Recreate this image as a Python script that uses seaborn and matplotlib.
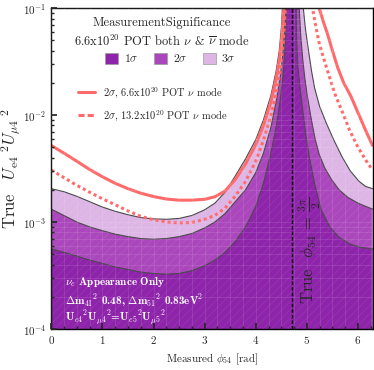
import numpy as np
import matplotlib
matplotlib.use("Agg")
import matplotlib.pyplot as plt
from matplotlib.patches import Patch
from matplotlib.lines import Line2D
import seaborn as sns

# contour boundaries (x = measured phi54, y = U_e4^2 U_mu4^2)
# near 3pi/2 the curves leave the top of the plot, the 1.0 point lies above the axes
sig1_x = [0, 0.25, 0.5, 0.75, 1.0, 1.25, 1.5, 1.75, 2.0, 2.25, 2.5, 2.75, 3.0, 3.2, 3.4, 3.6, 3.8,
          4.0, 4.15, 4.3, 4.4, 4.48, 4.54, 4.58, 4.6, 4.71,
          4.79, 4.80, 4.82, 4.86, 4.91, 4.98, 5.05, 5.15, 5.28, 5.45, 5.63, 5.85, 6.05, 6.2832]
sig1_y = [5.6e-4, 5.2e-4, 4.8e-4, 4.4e-4, 4.1e-4, 3.8e-4, 3.6e-4, 3.4e-4, 3.3e-4, 3.25e-4, 3.3e-4, 3.5e-4, 3.9e-4,
          4.4e-4, 5.2e-4, 6.6e-4, 9.0e-4,
          1.4e-3, 2.3e-3, 4.5e-3, 7.8e-3, 1.4e-2, 2.5e-2, 5e-2, 0.1, 1.0,
          0.1, 5e-2, 3e-2, 1.9e-2, 1.2e-2, 6.5e-3, 4.0e-3, 2.3e-3, 1.3e-3, 9.0e-4, 7.2e-4, 6.2e-4, 5.8e-4, 5.6e-4]

sig2_x = [0, 0.25, 0.5, 0.75, 1.0, 1.25, 1.5, 1.75, 2.0, 2.25, 2.5, 2.75, 3.0, 3.2, 3.4, 3.6, 3.8,
          4.0, 4.15, 4.3, 4.4, 4.48, 4.53, 4.56, 4.58, 4.71,
          4.85, 4.88, 4.92, 4.96, 5.01, 5.08, 5.16, 5.24, 5.35, 5.48, 5.63, 5.8, 6.0, 6.15, 6.2832]
sig2_y = [1.32e-3, 1.15e-3, 1.0e-3, 9.0e-4, 8.3e-4, 7.7e-4, 7.3e-4, 7.0e-4, 6.9e-4, 7.0e-4, 7.3e-4, 7.8e-4, 8.8e-4,
          1.0e-3, 1.2e-3, 1.55e-3, 2.0e-3,
          2.9e-3, 4.4e-3, 7.8e-3, 1.35e-2, 2.3e-2, 3.8e-2, 6e-2, 0.1, 1.0,
          0.1, 5.5e-2, 3.27e-2, 2.2e-2, 1.5e-2, 9.5e-3, 6.0e-3, 4.3e-3, 3.2e-3, 2.5e-3, 2.0e-3, 1.7e-3, 1.5e-3,
          1.4e-3, 1.32e-3]

sig3_x = [0, 0.25, 0.5, 0.75, 1.0, 1.25, 1.5, 1.75, 2.0, 2.25, 2.5, 2.75, 3.0, 3.2, 3.4, 3.6, 3.8,
          4.0, 4.15, 4.3, 4.4, 4.46, 4.5, 4.52, 4.71,
          4.93, 4.97, 5.03, 5.09, 5.15, 5.25, 5.38, 5.53, 5.69, 5.85, 6.02, 6.15, 6.2832]
sig3_y = [2.05e-3, 1.92e-3, 1.74e-3, 1.55e-3, 1.38e-3, 1.26e-3, 1.17e-3, 1.1e-3, 1.07e-3, 1.06e-3, 1.08e-3, 1.15e-3,
          1.3e-3, 1.5e-3, 1.9e-3, 2.7e-3, 3.9e-3,
          5.9e-3, 9.0e-3, 1.55e-2, 2.6e-2, 4.0e-2, 6.5e-2, 0.1, 1.0,
          0.1, 6.5e-2, 4.05e-2, 2.6e-2, 1.8e-2, 1.2e-2, 8.4e-3, 5.8e-3, 4.05e-3, 3.0e-3, 2.4e-3, 2.15e-3, 2.05e-3]

# 2 sigma, nu mode only
nu66_x = [0, 0.25, 0.5, 0.75, 1.0, 1.25, 1.5, 1.75, 2.0, 2.25, 2.5, 2.75, 3.0, 3.2, 3.4, 3.6, 3.8,
          4.0, 4.15, 4.3, 4.4, 4.47, 4.52, 4.55, 4.85,
          5.24, 5.32, 5.40, 5.5, 5.6, 5.72, 5.86, 6.0, 6.16, 6.2832]
nu66_y = [5.2e-3, 4.4e-3, 3.7e-3, 3.1e-3, 2.65e-3, 2.3e-3, 2.05e-3, 1.86e-3, 1.73e-3, 1.64e-3, 1.6e-3, 1.6e-3,
          1.63e-3, 1.72e-3, 1.95e-3, 2.5e-3, 3.5e-3,
          5.3e-3, 8.0e-3, 1.35e-2, 2.2e-2, 3.5e-2, 6e-2, 0.1, 1.0,
          0.1, 7.5e-2, 5.8e-2, 4.0e-2, 2.8e-2, 2.0e-2, 1.5e-2, 1.05e-2, 7.0e-3, 5.2e-3]

nu132_x = [0, 0.25, 0.5, 0.75, 1.0, 1.25, 1.5, 1.75, 2.0, 2.25, 2.5, 2.75, 3.0, 3.2, 3.4, 3.6, 3.8,
           4.0, 4.15, 4.3, 4.4, 4.48, 4.54, 4.58, 4.85,
           5.11, 5.18, 5.25, 5.38, 5.54, 5.7, 5.83, 6.0, 6.15, 6.2832]
nu132_y = [3.06e-3, 2.6e-3, 2.2e-3, 1.9e-3, 1.65e-3, 1.45e-3, 1.27e-3, 1.13e-3, 1.05e-3, 1.0e-3, 9.8e-4, 9.9e-4,
           1.06e-3, 1.15e-3, 1.35e-3, 1.75e-3, 2.4e-3,
           3.7e-3, 5.8e-3, 1.0e-2, 1.6e-2, 2.7e-2, 5e-2, 0.1, 1.0,
           0.1, 6.5e-2, 4.5e-2, 2.82e-2, 1.61e-2, 1.05e-2, 7.3e-3, 5.0e-3, 3.8e-3, 3.06e-3]

true_phi = 3 * np.pi / 2

c1, c2, c3 = "#8E24AA", "#AB47BC", "#DDB6E6"
red = "#ff6b6b"

sns.set_theme(style="ticks")
plt.rcParams["font.family"] = "serif"
plt.rcParams["font.serif"] = ["cmr10"]
plt.rcParams["mathtext.fontset"] = "cm"
plt.rcParams["axes.formatter.use_mathtext"] = True
plt.rcParams["hatch.linewidth"] = 0.4

fig = plt.figure(figsize=(3.74, 3.70), dpi=100)
ax = fig.add_axes([0.137, 0.111, 0.859, 0.867])

# filled significance regions, largest first
for xs, ys, col in [(sig3_x, sig3_y, c3), (sig2_x, sig2_y, c2), (sig1_x, sig1_y, c1)]:
    ax.fill_between(xs, 1e-5, ys, color=col, lw=0)
    ax.fill_between(xs, 1e-5, ys, facecolor="none", edgecolor=(1, 1, 1, 0.10), hatch="////", lw=0)
    sns.lineplot(x=xs, y=ys, ax=ax, color="#4a4a4a", lw=0.8, sort=False, estimator=None)

sns.lineplot(x=nu66_x, y=nu66_y, ax=ax, color=red, lw=2.2, sort=False, estimator=None)
sns.lineplot(x=nu132_x, y=nu132_y, ax=ax, color=red, lw=2.2, sort=False, estimator=None,
             linestyle=(0, (1, 1)))

ax.axvline(true_phi, color="black", lw=1.0, linestyle=(0, (2.5, 1.5)))

ax.set_yscale("log")
ax.set_xlim(0, 2 * np.pi)
ax.set_ylim(1e-4, 1e-1)
ax.set_xticks([0, 1, 2, 3, 4, 5, 6])
ax.xaxis.set_minor_locator(matplotlib.ticker.MultipleLocator(0.25))
ax.tick_params(which="both", direction="in", labelsize=8, top=False, right=False)
ax.tick_params(which="major", length=4)
ax.tick_params(which="minor", length=2)
ax.grid(which="both", color="white", alpha=0.12, lw=0.6)
ax.set_axisbelow(False)
for s in ax.spines.values():
    s.set_color("black")
    s.set_linewidth(1.0)

ax.set_xlabel(r"Measured $\phi_{54}$ [rad]", fontsize=8)
ax.set_ylabel(r"True$\ \ \ U_{\rm e4}{}^{\ 2}U_{\mu4}{}^{\ 2}$", fontsize=12, labelpad=0)

ax.text(5.06, 1.7e-4, r"True  $\phi_{54}$ = $\frac{3\pi}{2}$", rotation=90, fontsize=12,
        ha="center", va="bottom")

ax.text(0.27, 2.55e-4, r"$\nu_e$ Appearance Only", color="white", fontsize=8, family="cmb10")
ax.text(0.27, 1.7e-4, r"$\Delta$m$_{41}$$^2$ 0.48, $\Delta$m$_{51}$$^2$ 0.83eV$^2$", color="white",
        fontsize=8, family="cmb10")
ax.text(0.27, 1.18e-4, r"U$_{e4}$$^2$U$_{\mu4}$$^2$=U$_{e5}$$^2$U$_{\mu5}$$^2$", color="white",
        fontsize=8, family="cmb10")

# legend title as two centred lines, patches in a row below
ax.text(0.343, 0.953, "MeasurementSignificance", transform=ax.transAxes, fontsize=9,
        ha="center", va="center")
ax.text(0.343, 0.897, r"6.6x10$^{20}$ POT both $\nu$ & $\overline{\nu}$ mode", transform=ax.transAxes,
        fontsize=9, ha="center", va="center")

sig_handles = [Patch(facecolor=c1, edgecolor="#9a9a9a", lw=0.5),
               Patch(facecolor=c2, edgecolor="#9a9a9a", lw=0.5),
               Patch(facecolor=c3, edgecolor="#9a9a9a", lw=0.5)]
leg1 = ax.legend(sig_handles, [r"1$\sigma$", r"2$\sigma$", r"3$\sigma$"], ncol=3,
                 fontsize=8.5, frameon=False, loc="upper left",
                 bbox_to_anchor=(0.134, 0.895), handlelength=1.1, handleheight=1.1,
                 columnspacing=1.3, handletextpad=0.5)
ax.add_artist(leg1)

line_handles = [Line2D([], [], color=red, lw=2.2),
                Line2D([], [], color=red, lw=2.2, linestyle=(0, (2, 1)))]
ax.legend(line_handles, [r"2$\sigma$, 6.6x10$^{20}$ POT $\nu$ mode",
                         r"2$\sigma$, 13.2x10$^{20}$ POT $\nu$ mode"],
          fontsize=7.5, frameon=False, loc="upper left", bbox_to_anchor=(0.055, 0.79),
          handlelength=1.6, labelspacing=0.8)

fig.savefig("out.png", dpi=100)
